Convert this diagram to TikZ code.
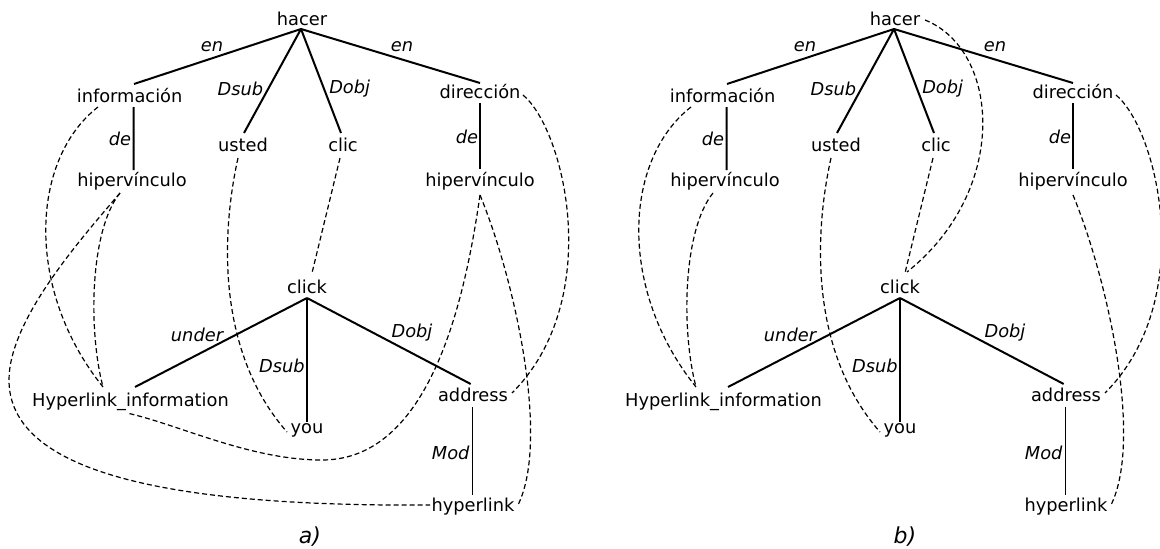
\documentclass[tikz,border=0pt]{standalone}
\usepackage{fontspec}
\setmainfont{DejaVu Sans}
\usetikzlibrary{calc}
\tikzset{
  word/.style={anchor=base, inner sep=0pt, font=\fontsize{17.8}{21}\selectfont},
  lab/.style={inner sep=0pt, font=\fontsize{17.8}{21}\selectfont\itshape},
  caption/.style={inner sep=0pt, font=\fontsize{22}{26}\selectfont\itshape},
  tree/.style={line width=2pt},
  thintree/.style={line width=1.4pt},
  link/.style={line width=1.2pt, dash pattern=on 5pt off 3pt},
}
\newcommand{\deptree}[2]{%
  \node[word] (#1hacer) at ({#2+302},25) {hacer};
  \node[word] (#1info) at ({#2+129.6},102.5) {información};
  \node[word] (#1usted) at ({#2+243},151) {usted};
  \node[word] (#1clic) at ({#2+343},151) {clic};
  \node[word] (#1dir) at ({#2+480},98.5) {dirección};
  \node[word] (#1hipL) at ({#2+132},186) {hipervínculo};
  \node[word] (#1hipR) at ({#2+480},186) {hipervínculo};
  \node[word] (#1click) at ({#2+307},293) {click};
  \node[word] (#1Hi) at ({#2+130.5},406) {Hyperlink\_information};
  \node[word] (#1you) at ({#2+307},433) {you};
  \node[word] (#1addr) at ({#2+473},401.5) {address};
  \node[word] (#1hlink) at ({#2+473},511) {hyperlink};
  \draw[tree] ($(#1hacer.base)+(-1,4)$) -- ($(#1info.base)+(4.4,-18.5)$);
  \draw[tree] ($(#1hacer.base)+(-1,4)$) -- ($(#1usted.base)+(1,-18)$);
  \draw[tree] ($(#1hacer.base)+(-1,4)$) -- ($(#1clic.base)+(-2,-18)$);
  \draw[tree] ($(#1hacer.base)+(-1,4)$) -- ($(#1dir.base)+(0,-15.5)$);
  \draw[tree] ($(#1info.base)+(4,4.5)$) -- ($(#1hipL.base)+(1.5,-16)$);
  \draw[tree] ($(#1dir.base)+(-0.5,4.5)$) -- ($(#1hipR.base)+(-0.5,-17.5)$);
  \draw[tree] ($(#1click.base)+(0,5)$) -- ($(#1Hi.base)+(4.5,-19)$);
  \draw[tree] ($(#1click.base)+(0,5)$) -- ($(#1you.base)+(0,-11)$);
  \draw[tree] ($(#1click.base)+(0,5)$) -- ($(#1addr.base)+(-2.3,-17.5)$);
  \draw[thintree] ($(#1addr.base)+(-0.7,5)$) -- ($(#1hlink.base)+(-0.7,-16)$);
  \node[lab] (#1enA) at ({#2+212},47) {en};
  \node[lab] (#1enB) at ({#2+402},47) {en};
  \node[lab] (#1dsA) at ({#2+240.5},89) {Dsub};
  \node[lab] (#1doA) at ({#2+349.7},89) {Dobj};
  \node[lab] (#1deA) at ({#2+120},139) {de};
  \node[lab] (#1deB) at ({#2+467},136.5) {de};
  \node[lab] (#1under) at ({#2+197},335) {under};
  \node[lab] (#1dsB) at ({#2+282},366) {Dsub};
  \node[lab] (#1doB) at ({#2+412},333) {Dobj};
  \node[lab] (#1mod) at ({#2+450.7},453) {Mod};
  \draw[link] ($(#1info.base)+(-31.6,4.5)$) .. controls ({#2+30},160) and ({#2+25},290) .. ($(#1Hi.base)+(-27.5,-19)$);
  \draw[link] ($(#1hipL.base)+(-12,7)$) .. controls ({#2+90},230) and ({#2+88},330) .. ($(#1Hi.base)+(-27.5,-19)$);
  \draw[link] ($(#1usted.base)+(-5,7)$) .. controls ({#2+222},230) and ({#2+215},350) .. ($(#1you.base)+(-20,-1)$);
  \draw[link] ($(#1clic.base)+(-3,7)$) -- ($(#1click.base)+(5,-20)$);
  \draw[link] ($(#1dir.base)+(43,-3.5)$) .. controls ({#2+565},130) and ({#2+605},300) .. ($(#1addr.base)+(39,-8.5)$);
  \draw[link] ($(#1hipR.base)+(0,9)$) .. controls ({#2+515},280) and ({#2+550},440) .. ($(#1hlink.base)+(45,-6)$);
}
\begin{document}
\begin{tikzpicture}[x=1pt,y=-1pt]
  \useasboundingbox (0,0) rectangle (1160,549);
  \deptree{a}{0}
  \deptree{b}{593}
  % (a) only
  \draw[link] ($(ahipL.base)+(-12,7)$) .. controls (80,240) and (9,320) .. (9,380)
     .. controls (9,470) and (160,507) .. ($(ahlink.base)+(-43,-6)$);
  \draw[link] ($(ahipR.base)+(0,9)$) .. controls (465,300) and (430,460) .. (322,460)
     .. controls (250,460) and (180,425) .. ($(aHi.base)+(-3.5,7)$);
  % (b) only
  \draw[link] ($(bhacer.base)+(30,-5)$) .. controls (1000,50) and (1010,190) .. ($(bclick.base)+(7,-21)$);
  \node[caption] (capa) at (310,537) {a)};
  \node[caption] (capb) at (905,537) {b)};
\end{tikzpicture}
\end{document}
